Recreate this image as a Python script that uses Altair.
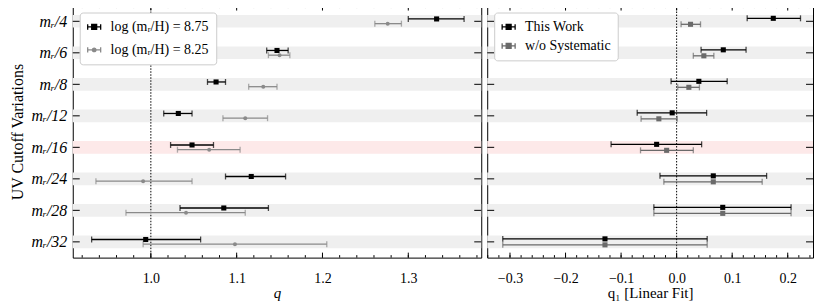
import altair as alt
import pandas as pd
import numpy as np

# ---------------- data ----------------
LABELS = ["mᵣ/4", "mᵣ/6", "mᵣ/8", "mᵣ/12", "mᵣ/16", "mᵣ/24", "mᵣ/28", "mᵣ/32"]
HIGHLIGHT = "mᵣ/16"

LEFT_SERIES = ["log (mᵣ/H) = 8.75", "log (mᵣ/H) = 8.25"]
Q_A = [1.333, 1.147, 1.076, 1.032, 1.048, 1.117, 1.085, 0.994]
Q_A_LO = [1.300, 1.135, 1.066, 1.015, 1.023, 1.087, 1.034, 0.931]
Q_A_HI = [1.365, 1.160, 1.087, 1.048, 1.073, 1.157, 1.137, 1.058]
Q_B = [1.276, 1.150, 1.131, 1.110, 1.068, 0.991, 1.041, 1.098]
Q_B_LO = [1.261, 1.137, 1.114, 1.084, 1.031, 0.936, 0.971, 0.991]
Q_B_HI = [1.292, 1.162, 1.147, 1.136, 1.104, 1.048, 1.110, 1.205]

RIGHT_SERIES = ["This Work", "w/o Systematic"]
Q1_A = [0.174, 0.084, 0.040, -0.008, -0.036, 0.066, 0.083, -0.129]
Q1_A_LO = [0.127, 0.044, -0.010, -0.071, -0.118, -0.030, -0.041, -0.313]
Q1_A_HI = [0.223, 0.125, 0.091, 0.054, 0.045, 0.162, 0.206, 0.055]
Q1_B = [0.025, 0.049, 0.022, -0.032, -0.018, 0.066, 0.083, -0.129]
Q1_B_LO = [0.008, 0.030, 0.002, -0.064, -0.065, -0.023, -0.041, -0.313]
Q1_B_HI = [0.043, 0.067, 0.041, 0.001, 0.030, 0.154, 0.206, 0.055]

LEFT_DOMAIN = [0.909, 1.385]
RIGHT_DOMAIN = [-0.341, 0.2455]
LEFT_MAJOR = [1.0, 1.1, 1.2, 1.3]
LEFT_MINOR = [round(v, 2) for v in np.arange(0.92, 1.385, 0.02)]
RIGHT_MAJOR = [-0.3, -0.2, -0.1, 0.0, 0.1, 0.2]
RIGHT_MINOR = [round(v, 2) for v in np.arange(-0.34, 0.245, 0.02)]

# ---------------- style ----------------
FONT = "Liberation Serif"
GRAY_BAND = "#efefef"
PINK_BAND = "#fde9e9"
H = 253
W_LEFT = 410
W_RIGHT = 327

EB_SQUARE = "M-1,0H1M-1,-0.42V0.42M1,-0.42V0.42M-0.38,-0.38H0.38V0.38H-0.38Z"
EB_CIRCLE = ("M-1,0H1M-1,-0.42V0.42M1,-0.42V0.42"
             "M-0.28,0A0.28,0.28 0 1,0 0.28,0A0.28,0.28 0 1,0 -0.28,0Z")


def make_df(series, data, offsets):
    rows = []
    for s_i, name in enumerate(series):
        c, lo, hi = data[s_i]
        for i, lab in enumerate(LABELS):
            rows.append({"label": lab, "idx": i, "series": name,
                         "c": c[i], "lo": lo[i], "hi": hi[i],
                         "y": i + offsets[s_i]})
    return pd.DataFrame(rows)


def panel(df, series, colors, shapes, sizes, domain, major, minor, ref,
          title, title_style, W, show_y, legend_paths, legend_rowpad):
    xs = alt.Scale(domain=domain, nice=False, zero=False)
    ys = alt.Scale(domain=[-0.5, 7.5], reverse=True, nice=False, zero=False)
    fill_scale = alt.Scale(domain=series, range=colors)
    stroke_scale = alt.Scale(domain=series, range=colors)
    bands = pd.DataFrame({"idx": list(range(len(LABELS))), "label": LABELS})

    arr = "[" + ",".join("'" + l + "'" for l in LABELS) + "]"
    ytitle = "UV Cutoff Variations" if show_y else ""
    yaxis = alt.Axis(values=list(range(len(LABELS))),
                     labelExpr=(arr + "[datum.value]") if show_y else "''",
                     title=ytitle, labelFontStyle="italic",
                     labelPadding=6, titlePadding=6, ticks=False, domain=False,
                     grid=False, labelFontSize=16, titleFontSize=16,
                     labels=show_y)
    xaxis = alt.Axis(values=major, format=".1f", title=title, titleFontStyle=title_style,
                     labelPadding=14, titlePadding=0, ticks=False, domain=False, grid=False,
                     labelFontSize=14, titleFontSize=15, labelOverlap=False)

    def X(f):
        return alt.X(f, scale=xs, axis=xaxis, title=title)

    def Y(f):
        return alt.Y(f, scale=ys, axis=yaxis, title=ytitle)

    leg = alt.Legend(title=None, orient="top-left", offset=7, fillColor="white",
                     strokeColor="#cccccc", cornerRadius=3, padding=7,
                     labelFont=FONT, labelFontSize=14, labelColor="black",
                     symbolSize=170, symbolStrokeWidth=1.3, rowPadding=legend_rowpad,
                     labelOffset=9)
    legend_layer = alt.Chart(pd.DataFrame({"series": series})).mark_point(
        filled=True, size=170, strokeWidth=1.3, opacity=1, clip=True
    ).encode(
        x=alt.value(-1000), y=alt.value(-1000),
        fill=alt.Fill("series:N", scale=fill_scale, legend=leg),
        stroke=alt.Stroke("series:N", scale=stroke_scale, legend=leg),
        shape=alt.Shape("series:N", scale=alt.Scale(domain=series, range=legend_paths), legend=leg),
    )

    band_layer = alt.Chart(bands).mark_rect().transform_calculate(
        y0="datum.idx - 0.2", y1="datum.idx + 0.2"
    ).encode(
        x=alt.value(0), x2=alt.value(W),
        y=Y("y0:Q"), y2="y1:Q",
        fill=alt.condition(alt.datum.label == HIGHLIGHT, alt.value(PINK_BAND), alt.value(GRAY_BAND)),
    )

    ref_layer = alt.Chart(pd.DataFrame({"rv": [ref]})).mark_rule(
        color="black", strokeWidth=1, strokeDash=[1.5, 1.5]
    ).encode(x=X("rv:Q"))

    tick_layers = []
    for vals, L in ((major, 5), (minor, 2.5)):
        tdf = pd.DataFrame({"tv": vals})
        tick_layers.append(alt.Chart(tdf).mark_rule(color="black", strokeWidth=1).encode(
            x=X("tv:Q"), y=alt.value(0), y2=alt.value(L)))
        tick_layers.append(alt.Chart(tdf).mark_rule(color="black", strokeWidth=1).encode(
            x=X("tv:Q"), y=alt.value(H), y2=alt.value(H - L)))
    tick_layers.append(alt.Chart(bands).mark_rule(color="black", strokeWidth=1).encode(
        y=Y("idx:Q"), x=alt.value(0), x2=alt.value(7)))
    tick_layers.append(alt.Chart(bands).mark_rule(color="black", strokeWidth=1).encode(
        y=Y("idx:Q"), x=alt.value(W - 7), x2=alt.value(W)))

    err = alt.Chart(df).mark_rule(strokeWidth=1.3).encode(
        x=X("lo:Q"), x2="hi:Q",
        y=Y("y:Q"),
        stroke=alt.Stroke("series:N", scale=stroke_scale, legend=None),
    )
    caps = alt.Chart(df).transform_fold(["lo", "hi"], as_=["end", "xv"]).mark_tick(
        orient="vertical", size=6, thickness=1.3
    ).encode(
        x=X("xv:Q"),
        y=Y("y:Q"),
        fill=alt.Fill("series:N", scale=fill_scale, legend=None),
    )
    markers = []
    for s_i, name in enumerate(series):
        markers.append(alt.Chart(df).transform_filter(alt.datum.series == name).mark_point(
            filled=True, shape=shapes[s_i], size=sizes[s_i], strokeWidth=0, opacity=1
        ).encode(
            x=X("c:Q"),
            y=Y("y:Q"),
            fill=alt.Fill("series:N", scale=fill_scale, legend=None),
        ))

    return alt.layer(legend_layer, band_layer, ref_layer, *tick_layers, err, caps,
                     *markers).properties(width=W, height=H)


left_df = make_df(LEFT_SERIES, [(Q_A, Q_A_LO, Q_A_HI), (Q_B, Q_B_LO, Q_B_HI)], [-0.075, 0.075])
right_df = make_df(RIGHT_SERIES, [(Q1_A, Q1_A_LO, Q1_A_HI), (Q1_B, Q1_B_LO, Q1_B_HI)], [-0.095, 0.095])

left = panel(left_df, LEFT_SERIES, ["#000000", "#8a8a8a"], ["square", "circle"], [26, 16],
             LEFT_DOMAIN, LEFT_MAJOR, LEFT_MINOR, 1.0, "q", "italic", W_LEFT, True,
             [EB_SQUARE, EB_CIRCLE], 8)
right = panel(right_df, RIGHT_SERIES, ["#000000", "#6a6a6a"], ["square", "square"], [26, 26],
              RIGHT_DOMAIN, RIGHT_MAJOR, RIGHT_MINOR, 0.0, "q₁ [Linear Fit]", "normal", W_RIGHT, False,
              [EB_SQUARE, EB_SQUARE], 4)

chart = alt.hconcat(left, right, spacing=4).resolve_scale(
    x="independent", y="independent", fill="independent", stroke="independent", shape="independent"
).resolve_legend(
    fill="independent", stroke="independent", shape="independent"
).properties(
    padding={"left": 0, "top": -4, "right": 0, "bottom": 0}
).configure(font=FONT).configure_view(
    stroke="black", strokeWidth=1
).configure_axis(
    labelFont=FONT, titleFont=FONT, labelColor="black", titleColor="black",
    titleFontWeight="normal"
)

chart.save("out.html", embed_options={"renderer": "svg", "actions": False})
